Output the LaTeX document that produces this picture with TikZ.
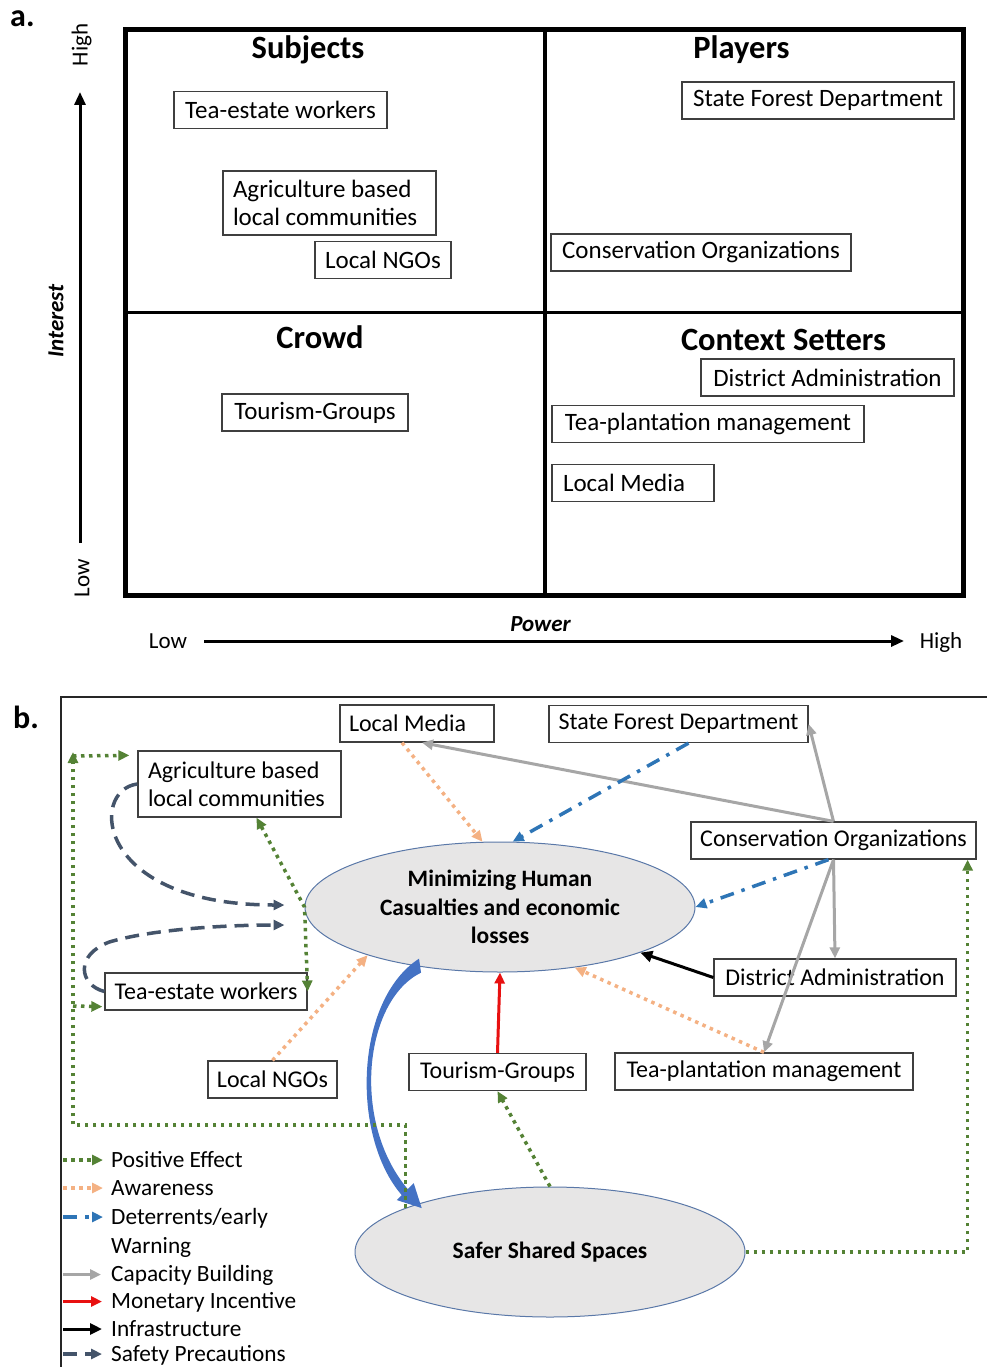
\documentclass[tikz,border=0pt]{standalone}
\usepackage{fontspec}
\setmainfont{Carlito}
\usetikzlibrary{shapes.geometric,arrows.meta,calc}

\definecolor{posgreen}{HTML}{548235}
\definecolor{awaorange}{HTML}{F4B183}
\definecolor{detblue}{HTML}{2E75B6}
\definecolor{capgray}{HTML}{A6A6A6}
\definecolor{monred}{HTML}{E81010}
\definecolor{safeslate}{HTML}{44546A}
\definecolor{flowblue}{HTML}{4472C4}
\definecolor{ovalgray}{HTML}{E7E6E6}
\definecolor{ovalline}{HTML}{5A78A8}
\definecolor{boxline}{HTML}{3F3F3F}

\tikzset{
	boxa/.style={draw=boxline,line width=1.3pt,inner sep=0pt,minimum height=37pt,font=\fontsize{25}{27.5}\selectfont},
	boxb/.style={boxa,font=\fontsize{24}{28}\selectfont},
	quad/.style={font=\bfseries\fontsize{32.5}{36}\selectfont,anchor=base},
	axislbl/.style={font=\fontsize{23}{26}\selectfont,inner sep=0pt},
	oval/.style={ellipse,draw=ovalline,line width=1pt,fill=ovalgray,minimum width=390pt,minimum height=130pt,inner sep=0pt,align=center,font=\bfseries\fontsize{23.5}{28.5}\selectfont},
	legtext/.style={font=\fontsize{23.3}{28}\selectfont,anchor=base west,inner sep=0pt},
	tip/.style={-{Triangle[length=11pt,width=10pt]}},
	positive/.style={tip,draw=posgreen,line width=3.5pt,dash pattern=on 3.5pt off 4.5pt},
	awareness/.style={tip,draw=awaorange,line width=3.5pt,dash pattern=on 3.5pt off 4.5pt},
	deterrent/.style={tip,draw=detblue,line width=3.5pt,dash pattern=on 14pt off 8pt on 3.5pt off 8pt},
	capacity/.style={tip,draw=capgray,line width=3pt},
	monetary/.style={tip,draw=monred,line width=3pt},
	infra/.style={-{Triangle[length=12pt,width=11pt]},draw=black,line width=3pt},
	safety/.style={tip,draw=safeslate,line width=3.5pt,dash pattern=on 14pt off 8pt},
	axis/.style={-{Triangle[length=13pt,width=11pt]},line width=3pt}
}

\begin{document}
\begin{tikzpicture}[x=1pt,y=-1pt]

	\useasboundingbox (0, 0) rectangle (987, 1367);

	\node[font=\bfseries\fontsize{32}{36}\selectfont,anchor=base west,inner sep=0pt] (la) at (10, 27) {a.};
	\node[font=\bfseries\fontsize{32}{36}\selectfont,anchor=base west,inner sep=0pt] (lb) at (13, 728) {b.};

	\draw[line width=5pt] (125.5, 29.5) rectangle (963.5, 595.5);
	\draw[line width=3.5pt] (545, 29.5) -- (545, 595.5);
	\draw[line width=3.5pt] (125.5, 312.5) -- (963.5, 312.5);

	\node[quad] (tsub) at (308, 59)    {Subjects};
	\node[quad] (tpla) at (741.5, 59)  {Players};
	\node[quad] (tcro) at (320, 348)   {Crowd};
	\node[quad] (tctx) at (783.5, 350) {Context Setters};

	\node[boxa,minimum width=213pt] (ateaw) at (280.5, 110) {Tea-estate workers};
	\node[boxa,minimum width=213pt,minimum height=64pt] (aagri) at (329.5, 203) {\parbox{193pt}{Agriculture based\\local communities}};
	\node[boxa,minimum width=136pt] (angos) at (383, 260) {Local NGOs};
	\node[boxa,minimum width=272pt] (asfd) at (818, 100.5) {State Forest Department};
	\node[boxa,minimum width=300pt] (acons) at (701, 252.5) {Conservation Organizations};
	\node[boxa,minimum width=186pt] (atour) at (315, 412.5) {Tourism-Groups};
	\node[boxa,minimum width=253pt] (adadm) at (827.5, 377.5) {District Administration};
	\node[boxa,minimum width=312pt] (atpm) at (708, 424) {Tea-plantation management};
	\node[boxa,minimum width=162pt] (almed) at (633, 483) {\parbox{140pt}{Local Media}};

	\node[axislbl,rotate=90] (ihigh) at (81.5, 45) {High};
	\node[axislbl,rotate=90] (ilow) at (82, 578) {Low};
	\node[axislbl,rotate=90,font=\bfseries\itshape\fontsize{23}{26}\selectfont] (iint) at (56, 321) {Interest};
	\node[axislbl,anchor=base] (plow) at (168, 648) {Low};
	\node[axislbl,anchor=base] (phigh) at (941, 648) {High};
	\node[axislbl,anchor=base,font=\bfseries\itshape\fontsize{23}{26}\selectfont] (ppow) at (540.5, 631) {Power};

	\coordinate (ibot) at (80, 543);
	\coordinate (itop) at (80, 92);
	\coordinate (pleft) at (204, 641);
	\coordinate (pright) at (904, 641);
	\draw[axis] (ibot) -- (itop);
	\draw[axis] (pleft) -- (pright);

	\draw[line width=1.5pt,black!85] (61, 1367) -- (61, 697) -- (987, 697);

	\node[oval] (minh) at (500, 907) {Minimizing Human\\Casualties and economic\\losses};
	\node[oval] (safe) at (550, 1252) {Safer Shared Spaces};

	\node[boxb,minimum width=154pt] (lmed) at (417, 723.5) {\parbox{136pt}{Local Media}};
	\node[boxb,minimum width=259pt] (sfd) at (678.5, 724) {State Forest Department};
	\node[boxb,minimum width=203pt,minimum height=66pt] (agri) at (239.5, 784) {\parbox{183pt}{Agriculture based\\local communities}};
	\node[boxb,minimum width=285pt] (cons) at (833.5, 840.5) {Conservation Organizations};
	\node[boxb,minimum width=242pt] (dadm) at (835, 977.5) {District Administration};
	\node[boxb,minimum width=202pt] (teaw) at (206, 991.5) {Tea-estate workers};
	\node[boxb,minimum width=129pt] (ngos) at (272.5, 1079.5) {Local NGOs};
	\node[boxb,minimum width=177pt] (tour) at (497.5, 1072) {Tourism-Groups};
	\node[boxb,minimum width=298pt] (tpm) at (764, 1071.5) {Tea-plantation management};

	\coordinate (gtop) at (73, 752);
	\coordinate (gbot) at (73, 1125);
	\coordinate (gtea) at (73, 1006);
	\coordinate (sp1) at ($(minh.west)+(-20,-2)$);
	\coordinate (sp2) at ($(minh.west)+(-20,18)$);

	\fill[flowblue] ($(minh.214)+(6,-7)$) .. controls +(-64.6,41.7) and +(-51,-59) .. ($(safe.161)+(-12,-10)$)
		-- ($(safe.161)+(-17,-5)$) -- ($(safe.161)+(8,3)$) -- ($(safe.161)+(0,-22)$) -- ($(safe.161)+(-6,-16)$)
		.. controls +(-57,-68) and +(-56.6,27.7) .. ($(minh.214)+(8,7)$) -- cycle;

	\path (cons.north) edge[capacity] ($(lmed.south)+(5,0)$);
	\path (cons.north) edge[capacity] (sfd.east);
	\path (cons.south) edge[capacity] (dadm.north);
	\path (cons.south) edge[capacity] (tpm.north);

	\path ($(lmed.south)+(-15,0)$) edge[awareness] (minh.105);
	\path (ngos.north) edge[awareness] (minh.200);
	\path (tpm.north) edge[awareness] (minh.321);

	\path ($(sfd.south)+(10,0)$) edge[deterrent] (minh.79);
	\path ($(cons.south)+(-5,0)$) edge[deterrent] (minh.east);

	\path (dadm.west) edge[infra] (minh.342);
	\path (tour.north) edge[monetary] (minh.south);

	\path (safe.north) edge[positive] (tour.south);
	\draw[positive] (safe.east) -| ($(cons.south east)+(-9,0)$);
	\draw[positive] (safe.163) |- (gbot) -- (gtop);
	\draw[positive] ($(gtop)+(0,4)$) -- ($(agri.north west)+(-8,5)$);
	\draw[positive] (gtea) -- ($(teaw.south west)+(-2,-4)$);
	\draw[positive,{Triangle[length=11pt,width=10pt]}-{Triangle[length=11pt,width=10pt]}] ($(agri.south)+(17,0)$) -- (minh.west) -- (teaw.east);

	\draw[safety] (agri.west) .. controls +(-48,6) and +(-190,0) .. (sp1);
	\draw[safety] (teaw.west) .. controls +(-25,-6.5) and +(-35,13) .. ++(5,-49.5) .. controls +(40,-12) and +(-65,0) .. (sp2);

	\node[legtext] (lpos) at (111, 1167) {Positive Effect};
	\node[legtext] (lawa) at (111, 1195) {Awareness};
	\node[legtext] (ldet) at (111, 1224) {Deterrents/early};
	\node[legtext] (ldetb) at (111, 1253) {Warning};
	\node[legtext] (lcap) at (111, 1281.5) {Capacity Building};
	\node[legtext] (lmon) at (111, 1308.5) {Monetary Incentive};
	\node[legtext] (linf) at (111, 1336) {Infrastructure};
	\node[legtext] (lsaf) at (111, 1361) {Safety Precautions};

	\draw[positive]  ($(lpos.base west)+(-48,-7)$) -- ($(lpos.base west)+(-8,-7)$);
	\draw[awareness] ($(lawa.base west)+(-48,-7)$) -- ($(lawa.base west)+(-8,-7)$);
	\draw[deterrent] ($(ldet.base west)+(-48,-7)$) -- ($(ldet.base west)+(-8,-7)$);
	\draw[capacity]  ($(lcap.base west)+(-48,-7)$) -- ($(lcap.base west)+(-10,-7)$);
	\draw[monetary]  ($(lmon.base west)+(-48,-7)$) -- ($(lmon.base west)+(-9,-7)$);
	\draw[infra]     ($(linf.base west)+(-48,-7)$) -- ($(linf.base west)+(-9,-7)$);
	\draw[safety]    ($(lsaf.base west)+(-48,-7)$) -- ($(lsaf.base west)+(-9,-7)$);

\end{tikzpicture}
\end{document}
